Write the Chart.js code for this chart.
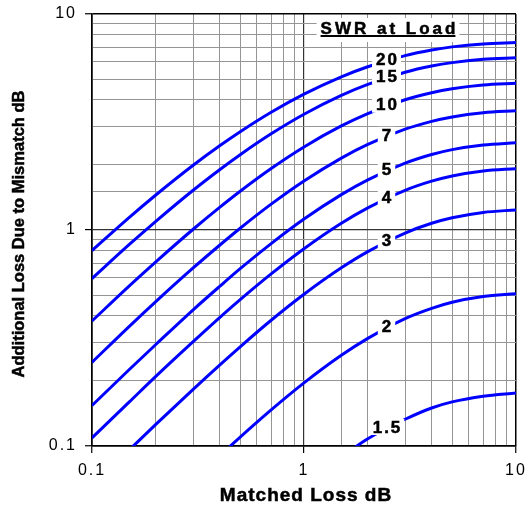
<!DOCTYPE html>
<html><head><meta charset="utf-8">
<style>html,body{margin:0;padding:0;background:#fff;overflow:hidden}#wrap{width:526px;height:510px;position:relative}</style>
<script src="https://cdn.jsdelivr.net/npm/chart.js@4/dist/chart.umd.min.js"></script>
</head><body><div id="wrap"><canvas id="c"></canvas></div>
<script>
// ---- data ----
const matchedLoss = [0.1, 0.15, 0.2, 0.3, 0.4, 0.5, 0.7, 1, 1.5, 2, 3, 4, 5, 7, 10];
const swrNames = ['1.5', '2', '3', '4', '5', '7', '10', '15', '20'];
const swr1_5 = [null, null, null, null, null, null, null, null, 0.089, 0.108, 0.133, 0.150, 0.160, 0.170, 0.176];
const swr2   = [null, null, null, null, 0.090, 0.110, 0.147, 0.196, 0.263, 0.315, 0.389, 0.434, 0.463, 0.492, 0.507];
const swr3   = [null, 0.096, 0.126, 0.183, 0.237, 0.288, 0.382, 0.504, 0.668, 0.794, 0.968, 1.074, 1.139, 1.206, 1.239];
const swr4   = [0.109, 0.160, 0.210, 0.304, 0.393, 0.476, 0.626, 0.819, 1.074, 1.266, 1.527, 1.683, 1.779, 1.876, 1.923];
const swr5   = [0.154, 0.226, 0.295, 0.427, 0.548, 0.662, 0.865, 1.124, 1.458, 1.707, 2.039, 2.236, 2.355, 2.475, 2.533];
const swr7   = [0.244, 0.358, 0.466, 0.667, 0.850, 1.019, 1.317, 1.686, 2.152, 2.489, 2.929, 3.185, 3.339, 3.492, 3.566];
const swr10  = [0.379, 0.551, 0.712, 1.008, 1.273, 1.512, 1.926, 2.424, 3.032, 3.461, 4.008, 4.320, 4.506, 4.690, 4.778];
const swr15  = [0.596, 0.857, 1.097, 1.528, 1.902, 2.232, 2.788, 3.435, 4.199, 4.722, 5.373, 5.739, 5.955, 6.166, 6.267];
const swr20  = [0.803, 1.144, 1.452, 1.993, 2.453, 2.851, 3.509, 4.257, 5.120, 5.701, 6.414, 6.810, 7.043, 7.270, 7.378];
const allSeries = [swr1_5, swr2, swr3, swr4, swr5, swr7, swr10, swr15, swr20];
const axisTickLabels = ['0.1', '1', '10'];
const xTitle = 'Matched Loss dB';
const yTitle = 'Additional Loss Due to Mismatch dB';
const legendTitle = 'SWR at Load';
const curveLabelAt = 2.45; // matched loss where the SWR labels sit on the curves

const FONT = '"Liberation Sans", Arial, Helvetica, sans-serif';
const BLUE = '#0000ff';

function decade(v) { const l = Math.log10(v); return Math.abs(l - Math.round(l)) < 1e-6 ? Math.round(l) : null; }
function gridColor(c) {
  const d = decade(c.tick.value);
  if (d === null) return '#959595';
  if (d === 0) return '#333333';
  return '#000000';
}
function gridWidth(c) { const d = decade(c.tick.value); return d === null ? 1 : (d === 0 ? 1.2 : 1.5); }
function tickColor(c) { return decade(c.tick.value) === null ? 'rgba(0,0,0,0)' : '#000'; }
function tickLabel(v) { const d = decade(v); return d === null ? '' : axisTickLabels[d + 1]; }

function interpLog(series, xv) {
  for (let i = 0; i < matchedLoss.length - 1; i++) {
    const a = matchedLoss[i], b = matchedLoss[i + 1];
    if (xv >= a && xv <= b && series[i] != null && series[i + 1] != null) {
      const t = Math.log(xv / a) / Math.log(b / a);
      return Math.exp(Math.log(series[i]) + t * (Math.log(series[i + 1]) - Math.log(series[i])));
    }
  }
  return null;
}

const spacingPlugin = {
  id: 'spacing',
  beforeDraw(chart) { chart.ctx.letterSpacing = '2px'; }
};

function boldText(ctx, text, x, y) {
  ctx.fillText(text, x, y);
  ctx.lineWidth = 0.5;
  ctx.strokeStyle = ctx.fillStyle;
  ctx.strokeText(text, x, y);
}

const annotPlugin = {
  id: 'annot',
  afterDatasetsDraw(chart) {
    const ctx = chart.ctx, xs = chart.scales.x, ys = chart.scales.y, ca = chart.chartArea;
    ctx.save();
    // curve labels
    ctx.font = 'bold 17px ' + FONT;
    ctx.letterSpacing = '2px';
    ctx.textBaseline = 'middle';
    ctx.textAlign = 'left';
    swrNames.forEach((name, i) => {
      const yv = interpLog(allSeries[i], curveLabelAt);
      if (yv == null) return;
      const px = xs.getPixelForValue(curveLabelAt);
      const py = ys.getPixelForValue(yv) - 2;
      const w = ctx.measureText(name).width - 2;
      ctx.fillStyle = '#fff';
      ctx.fillRect(px - w / 2 - 4, py - 8, w + 8, 16);
      ctx.fillStyle = '#000';
      boldText(ctx, name, px - w / 2, py + 1);
    });
    // legend title
    ctx.letterSpacing = '3px';
    ctx.font = 'bold 17px ' + FONT;
    const lw = ctx.measureText(legendTitle).width - 3;
    const lcx = ca.right - 128, lcy = ca.top + 15;
    ctx.fillStyle = '#fff';
    ctx.fillRect(lcx - lw / 2 - 4, lcy - 11, lw + 8, 24);
    ctx.fillStyle = '#000';
    boldText(ctx, legendTitle, lcx - lw / 2, lcy);
    ctx.fillRect(lcx - lw / 2, lcy + 6, lw, 2);
    ctx.restore();
  },
  afterDraw(chart) {
    const ctx = chart.ctx, ca = chart.chartArea;
    ctx.save();
    ctx.fillStyle = '#000';
    ctx.textBaseline = 'middle';
    ctx.textAlign = 'left';
    // x title
    ctx.letterSpacing = '1px';
    ctx.font = 'bold 19px ' + FONT;
    const xw = ctx.measureText(xTitle).width - 1;
    boldText(ctx, xTitle, (ca.left + ca.right) / 2 + 1.5 - xw / 2, 496);
    // y title
    ctx.letterSpacing = '0px';
    ctx.font = 'bold 16.5px ' + FONT;
    ctx.translate(19, (ca.top + ca.bottom) / 2 + 4);
    ctx.rotate(-Math.PI / 2);
    ctx.textAlign = 'center';
    boldText(ctx, yTitle, 0, 0);
    ctx.restore();
  }
};

const datasets = allSeries.map((s, i) => ({
  label: 'SWR ' + swrNames[i],
  data: matchedLoss.map((x, j) => ({ x: x, y: s[j] })),
  borderColor: BLUE,
  borderWidth: 3,
  pointRadius: 0,
  fill: false,
  spanGaps: false,
  cubicInterpolationMode: 'monotone',
  clip: 0
}));

function axisCommon() {
  return {
    type: 'logarithmic', min: 0.1, max: 10,
    border: { display: true, color: '#000', width: 1.5 },
    grid: { color: gridColor, lineWidth: gridWidth, tickColor: tickColor, tickLength: 7, tickWidth: 1.2, drawTicks: true },
    ticks: { autoSkip: false, maxRotation: 0, minRotation: 0, callback: tickLabel, color: '#000', font: { family: FONT, size: 16 } }
  };
}
const xAxis = axisCommon();
xAxis.ticks.padding = 8;
xAxis.afterFit = s => { s.height = 64; s.paddingLeft = 0; s.paddingRight = 0; };
const yAxis = axisCommon();
yAxis.ticks.padding = 8;
yAxis.afterFit = s => { s.width = 92; s.paddingTop = 0; s.paddingBottom = 0; };

new Chart(document.getElementById('c'), {
  type: 'line',
  data: { datasets: datasets },
  options: {
    responsive: true, maintainAspectRatio: false, animation: false,
    devicePixelRatio: 1,
    layout: { padding: { left: 0, right: 10, top: 14, bottom: 0 } },
    plugins: { legend: { display: false }, tooltip: { enabled: false } },
    scales: { x: xAxis, y: yAxis }
  },
  plugins: [spacingPlugin, annotPlugin]
});
</script></body></html>
